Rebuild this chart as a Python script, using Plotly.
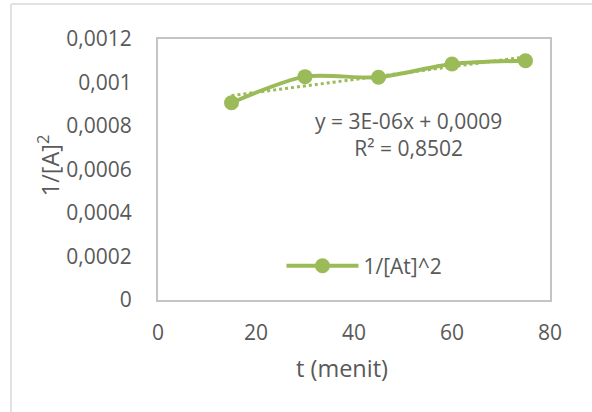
import numpy as np
import plotly.graph_objects as go

# ---- data ----
t_menit = [15, 30, 45, 60, 75]
inv_A2 = [0.000907, 0.001027, 0.001024, 0.001085, 0.001100]
series_name = "1/[At]^2"

x_ticks = [0, 20, 40, 60, 80]
x_tick_labels = ["0", "20", "40", "60", "80"]
y_ticks = [0, 0.0002, 0.0004, 0.0006, 0.0008, 0.001, 0.0012]
y_tick_labels = ["0", "0,0002", "0,0004", "0,0006", "0,0008", "0,001", "0,0012"]

eq_text = "y = 3E-06x + 0,0009"
r2_text = "R² = 0,8502"
x_title = "t (menit)"
y_title = "1/[A]<sup>2</sup>"

# linear trendline from the data
slope, intercept = np.polyfit(t_menit, inv_A2, 1)
trend_x = [min(t_menit), max(t_menit)]
trend_y = [slope * v + intercept for v in trend_x]

GREEN = "#9BBB59"
TXT = "#595959"
FONT = "Open Sans"

fig = go.Figure()
fig.add_trace(go.Scatter(
    x=trend_x, y=trend_y, mode="lines",
    line=dict(color=GREEN, width=3, dash="dot"),
    showlegend=False, hoverinfo="skip",
))
fig.add_trace(go.Scatter(
    x=t_menit, y=inv_A2, mode="lines+markers", name=series_name,
    line=dict(color=GREEN, width=4, shape="spline", smoothing=0.8),
    marker=dict(color=GREEN, size=15),
))

fig.update_layout(
    width=592, height=412,
    margin=dict(l=158, r=42, t=39, b=112),
    paper_bgcolor="white", plot_bgcolor="white",
    font=dict(family=FONT, size=21, color=TXT),
    showlegend=True,
    legend=dict(x=0.315, y=0.13, xanchor="left", yanchor="middle",
                bgcolor="rgba(0,0,0,0)", font=dict(size=21, color=TXT),
                itemwidth=72),
    xaxis=dict(range=[0, 80], tickvals=x_ticks, ticktext=x_tick_labels,
               showgrid=False, zeroline=False, showline=True, mirror=True,
               linecolor="#C4C4C4", linewidth=2, ticks="",
               ticklabelstandoff=13, tickfont=dict(size=21, color=TXT)),
    yaxis=dict(range=[0, 0.0012], tickvals=y_ticks, ticktext=y_tick_labels,
               showgrid=False, zeroline=False, showline=True, mirror=True,
               linecolor="#C4C4C4", linewidth=2, ticks="",
               ticklabelstandoff=20, tickfont=dict(size=21, color=TXT)),
    annotations=[
        dict(text=eq_text + "<br>" + r2_text, x=0.640, y=0.633,
             xref="paper", yref="paper", showarrow=False,
             xanchor="center", yanchor="middle", align="center",
             font=dict(size=21, color=TXT)),
        dict(text=x_title, x=0.4686, y=-0.262, xref="paper", yref="paper",
             showarrow=False, xanchor="center", yanchor="middle",
             font=dict(size=23.5, color=TXT)),
        dict(text=y_title, x=-0.28, y=0.517, xref="paper", yref="paper",
             showarrow=False, xanchor="center", yanchor="middle",
             textangle=-90, font=dict(size=23.5, color=TXT)),
    ],
    shapes=[
        dict(type="line", xref="paper", yref="paper",
             x0=-0.375, x1=1.2, y0=1.1341, y1=1.1341,
             line=dict(color="#D9D9D9", width=1.5)),
        dict(type="line", xref="paper", yref="paper",
             x0=-0.375, x1=-0.375, y0=1.1341, y1=-0.5,
             line=dict(color="#D9D9D9", width=1.5)),
    ],
)

fig.write_html("out.html")
